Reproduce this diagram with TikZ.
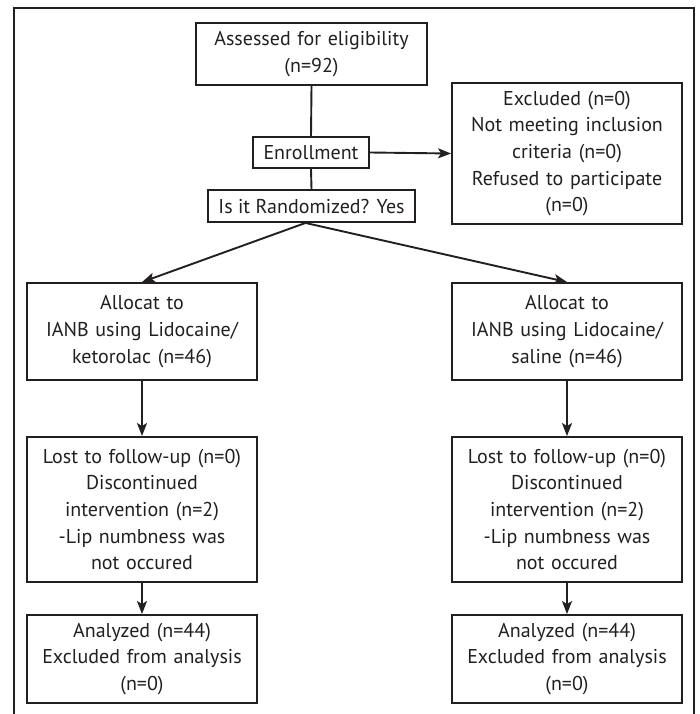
\documentclass[tikz,border=0pt]{standalone}
\usepackage{fontspec}
\setmainfont{PT Sans}
\usetikzlibrary{arrows.meta}
\definecolor{ink}{RGB}{35,31,32}
\begin{document}
\begin{tikzpicture}[x=1pt,y=-1pt,
  every node/.style={font=\fontsize{20}{26.7}\selectfont, text=ink},
  box/.style={draw=ink, line width=1.9pt, inner sep=0pt, align=center, anchor=center},
  wide/.style={box, minimum width=230pt, text width=226pt},
  link/.style={draw=ink, line width=1.9pt},
  arr/.style={link, -{Stealth[length=13pt,width=10pt,inset=3pt]}}
]
\useasboundingbox (0,0) rectangle (699,714);
% frame
\draw[draw=ink, line width=2.2pt] (14,714) -- (14,8) -- (694,8) -- (694,714);
% nodes
\node[wide, minimum width=231pt, minimum height=62pt] (assess) at (311.5,54) {Assessed for eligibility\\(n=92)};
\node[box, minimum width=116pt, minimum height=31pt] (enroll) at (311,152.5) {Enrollment};
\node[box, minimum width=207pt, minimum height=32pt] (rand) at (311.5,206) {Is it Randomized? Yes};
\coordinate (split) at ([xshift=-6pt]rand.south);
\node[wide, minimum height=141pt] (excl) at (567,153.5) {Excluded (n=0)\\Not meeting inclusion\\criteria (n=0)\\Refused to participate\\(n=0)};
\node[wide, minimum height=97pt] (allocL) at (142,331.5) {Allocat to\\IANB using Lidocaine/\\ketorolac (n=46)};
\node[wide, minimum height=97pt] (allocR) at (567,331.5) {Allocat to\\IANB using Lidocaine/\\saline (n=46)};
\node[wide, minimum height=145pt] (lostL) at (142,509.5) {Lost to follow-up (n=0)\\Discontinued\\intervention (n=2)\\-Lip numbness was\\not occured};
\node[wide, minimum height=145pt] (lostR) at (567,509.5) {Lost to follow-up (n=0)\\Discontinued\\intervention (n=2)\\-Lip numbness was\\not occured};
\node[wide, minimum height=88pt] (anaL) at (142,659) {Analyzed (n=44)\\Excluded from analysis\\(n=0)};
\node[wide, minimum height=88pt] (anaR) at (567,659) {Analyzed (n=44)\\Excluded from analysis\\(n=0)};
% connectors
\draw[link] (assess.south) -- (enroll.north);
\draw[link] (enroll.south) -- (rand.north);
\draw[arr] (enroll.east) -- (excl.west);
\draw[arr] (split) -- (allocL.north);
\draw[arr] (split) -- (allocR.north);
\draw[arr] (allocL.south) -- (lostL.north);
\draw[arr] (allocR.south) -- (lostR.north);
\draw[arr] (lostL.south) -- (anaL.north);
\draw[arr] (lostR.south) -- (anaR.north);
\end{tikzpicture}
\end{document}
